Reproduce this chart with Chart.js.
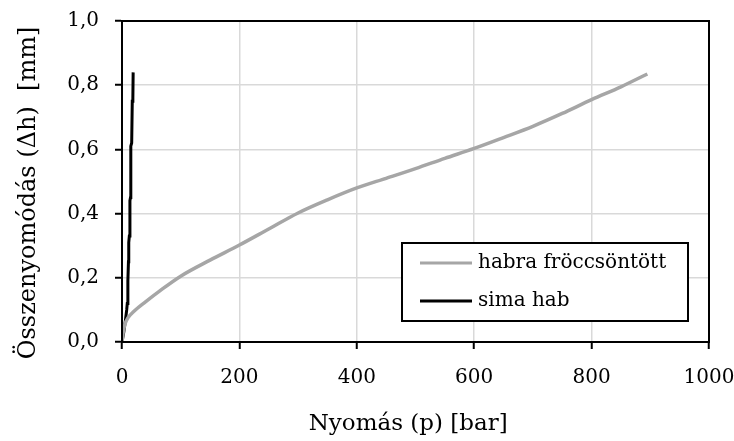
<!DOCTYPE html>
<html lang="hu">
<head>
    <meta charset="UTF-8">
    <title>Összenyomódás</title>
    <script src="https://cdn.jsdelivr.net/npm/chart.js@4"></script>
    <style>
        html, body { margin: 0; padding: 0; background: #ffffff; }
        #wrap { width: 734px; height: 441px; }
    </style>
</head>
<body>
    <div id="wrap"><canvas id="chart" width="734" height="441"></canvas></div>
    <script>
        // habra fröccsöntött
        const injPressure = [0, 2, 5, 10, 20, 40, 65, 100, 150, 200, 250, 300, 350, 400, 450, 500, 550, 600, 650, 700, 750, 800, 850, 895];
        const injDeform   = [0, 0.03, 0.055, 0.075, 0.095, 0.125, 0.16, 0.205, 0.255, 0.302, 0.352, 0.402, 0.443, 0.48, 0.51, 0.54, 0.572, 0.603, 0.637, 0.672, 0.712, 0.755, 0.795, 0.835];
        // sima hab
        const foamPressure = [0, 3, 6, 8, 9, 10, 11, 11.5, 12.5, 13.5, 14.5, 15, 16.5, 17.5, 18.5, 19];
        const foamDeform   = [0, 0.03, 0.07, 0.1, 0.12, 0.19, 0.25, 0.31, 0.33, 0.44, 0.45, 0.61, 0.62, 0.75, 0.76, 0.84];

        const xTicks = [0, 200, 400, 600, 800, 1000];
        const yTicks = [0, 0.2, 0.4, 0.6, 0.8, 1.0];

        const FONT = 'DejaVu Serif';
        const SIZE = 20;
        const toPoints = (xs, ys) => xs.map((x, i) => ({ x: x, y: ys[i] }));

        // legend box drawn inside the plot, lower right corner
        const insideLegend = {
            id: 'insideLegend',
            afterDatasetsDraw(chart) {
                const { ctx, chartArea } = chart;
                const w = 286, h = 78;
                const x0 = chartArea.right - 21 - w;
                const y0 = chartArea.bottom - 21 - h;
                ctx.save();
                ctx.fillStyle = '#ffffff';
                ctx.fillRect(x0, y0, w, h);
                ctx.strokeStyle = '#000000';
                ctx.lineWidth = 2;
                ctx.strokeRect(x0, y0, w, h);
                ctx.font = SIZE + 'px "' + FONT + '"';
                ctx.textBaseline = 'middle';
                chart.data.datasets.forEach((ds, i) => {
                    const cy = y0 + 20 + i * 38;
                    ctx.strokeStyle = ds.borderColor;
                    ctx.lineWidth = 3;
                    ctx.beginPath();
                    ctx.moveTo(x0 + 18, cy);
                    ctx.lineTo(x0 + 70, cy);
                    ctx.stroke();
                    ctx.fillStyle = '#000000';
                    ctx.fillText(ds.label, x0 + 76, cy);
                });
                ctx.restore();
            }
        };

        // black frame round the plot area
        const frame = {
            id: 'frame',
            afterDraw(chart) {
                const { ctx, chartArea } = chart;
                ctx.save();
                ctx.strokeStyle = '#000000';
                ctx.lineWidth = 2;
                ctx.strokeRect(chartArea.left, chartArea.top, chartArea.right - chartArea.left, chartArea.bottom - chartArea.top);
                ctx.restore();
            }
        };

        new Chart(document.getElementById('chart'), {
            type: 'line',
            data: {
                datasets: [{
                    label: 'habra fröccsöntött',
                    data: toPoints(injPressure, injDeform),
                    borderColor: '#a6a6a6',
                    borderWidth: 3.5,
                    pointRadius: 0,
                    cubicInterpolationMode: 'monotone',
                    fill: false
                }, {
                    label: 'sima hab',
                    data: toPoints(foamPressure, foamDeform),
                    borderColor: '#000000',
                    borderWidth: 3,
                    pointRadius: 0,
                    tension: 0,
                    fill: false
                }]
            },
            options: {
                responsive: false,
                animation: false,
                layout: { padding: { left: 0, top: 21, right: 25, bottom: 0 } },
                plugins: { legend: { display: false }, tooltip: { enabled: false } },
                scales: {
                    x: {
                        type: 'linear',
                        min: 0, max: 1000,
                        afterBuildTicks: (s) => { s.ticks = xTicks.map(v => ({ value: v })); },
                        afterFit: (s) => { s.height = 99; s.paddingLeft = 0; s.paddingRight = 0; },
                        border: { color: '#000000', width: 2 },
                        grid: { color: '#d9d9d9', lineWidth: 1.5, tickColor: '#000000', tickLength: 7, tickWidth: 2 },
                        ticks: { color: '#000000', padding: 17, font: { family: FONT, size: SIZE }, callback: (v) => String(v) },
                        // trailing spaces nudge the label slightly left of centre
                        title: { display: true, text: 'Nyomás (p) [bar]  ', color: '#000000', padding: { top: 0, bottom: 3 }, font: { family: FONT, size: 23 } }
                    },
                    y: {
                        type: 'linear',
                        min: 0, max: 1,
                        afterBuildTicks: (s) => { s.ticks = yTicks.map(v => ({ value: v })); },
                        afterFit: (s) => { s.width = 122; s.paddingTop = 0; s.paddingBottom = 0; },
                        border: { color: '#000000', width: 2 },
                        grid: { color: '#d9d9d9', lineWidth: 1.5, tickColor: '#000000', tickLength: 7, tickWidth: 2 },
                        ticks: {
                            color: '#000000', padding: 16, font: { family: FONT, size: SIZE },
                            callback: (v) => v.toFixed(1).replace('.', ',')
                        },
                        // trailing spaces push the label a little below the axis middle
                        title: { display: true, text: 'Összenyomódás (Δh)  [mm]   ', color: '#000000', padding: { top: 14, bottom: 0 }, font: { family: FONT, size: 24 } }
                    }
                }
            },
            plugins: [insideLegend, frame]
        });
    </script>
</body>
</html>
